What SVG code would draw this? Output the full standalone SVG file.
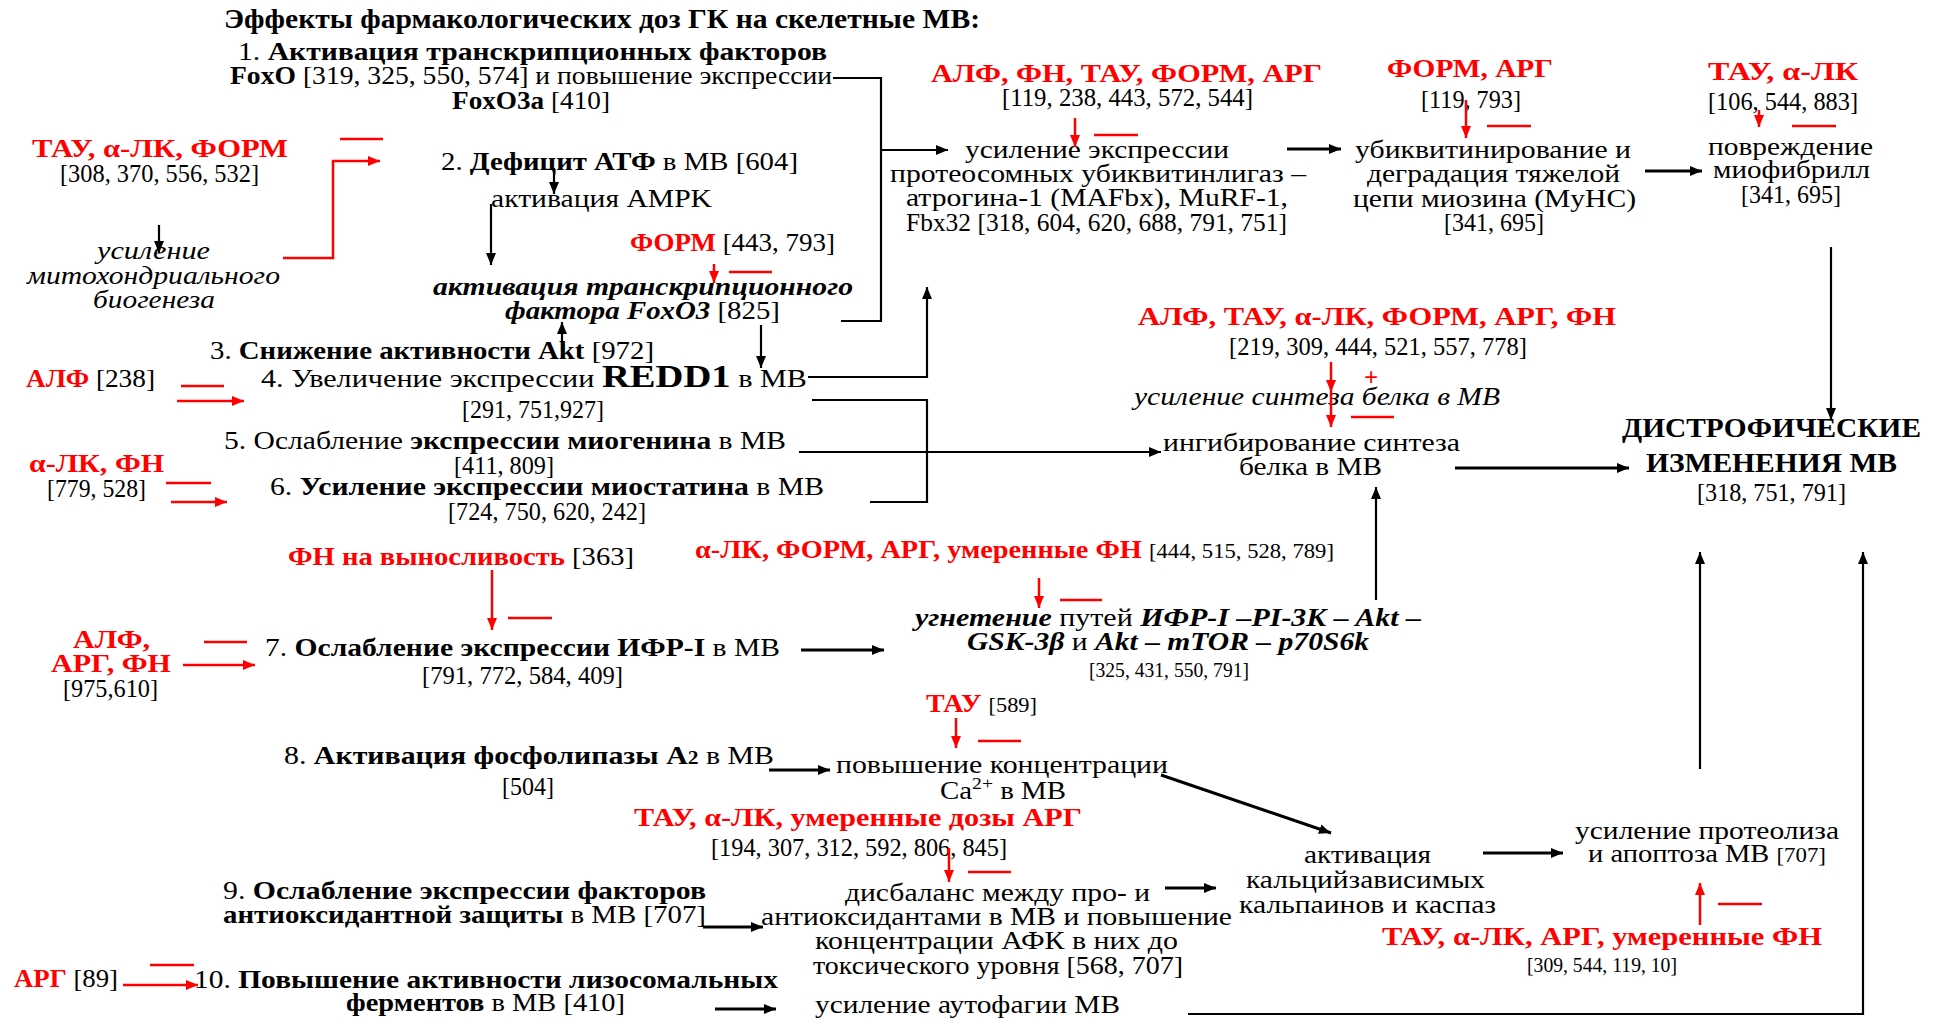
<svg xmlns="http://www.w3.org/2000/svg" width="1943" height="1021" viewBox="0 0 1943 1021">
<defs>
<style>
text{font-family:"Liberation Serif","Times New Roman",serif;font-size:25px;fill:#000}
.b{font-weight:bold}
.i{font-style:italic}
.r{fill:#f00}
.n{font-size:25px}
.s{font-size:20px}
.big{font-size:32px}
.h{font-size:28px;font-weight:bold}
.c{stroke:#000;stroke-width:2.2;fill:none}
.ct{stroke:#000;stroke-width:3;fill:none}
.rl{stroke:#f00;stroke-width:2.5;fill:none}
</style>
<marker id="ab" viewBox="0 0 12 10" refX="12" refY="5" markerWidth="12" markerHeight="10" markerUnits="userSpaceOnUse" orient="auto"><path d="M0,0 L12,5 L0,10 z" fill="#000"/></marker>
<marker id="ar" viewBox="0 0 12 10" refX="12" refY="5" markerWidth="12" markerHeight="10" markerUnits="userSpaceOnUse" orient="auto"><path d="M0,0 L12,5 L0,10 z" fill="#f00"/></marker>
</defs>
<rect width="1943" height="1021" fill="#fff"/>

<g id="title"><text class="h" x="224" y="28" textLength="756" lengthAdjust="spacingAndGlyphs">Эффекты фармакологических доз ГК на скелетные МВ:</text></g>

<g id="n1">
<text x="238" y="60" textLength="589" lengthAdjust="spacingAndGlyphs">1. <tspan class="b">Активация транскрипционных факторов</tspan></text>
<text x="230" y="84" textLength="602" lengthAdjust="spacingAndGlyphs"><tspan class="b">FoxO</tspan> [319, 325, 550, 574] и повышение экспрессии</text>
<text x="452" y="109" textLength="158" lengthAdjust="spacingAndGlyphs"><tspan class="b">FoxO3a</tspan> [410]</text>
</g>

<g id="n_mod2">
<text class="b r" x="32" y="157" textLength="256" lengthAdjust="spacingAndGlyphs">ТАУ, α-ЛК, ФОРМ</text>
<text x="60" y="182" textLength="199" lengthAdjust="spacingAndGlyphs">[308, 370, 556, 532]</text>
</g>
<g id="n_mito">
<text class="i" x="97" y="259" textLength="113" lengthAdjust="spacingAndGlyphs">усиление</text>
<text class="i" x="27" y="284" textLength="253" lengthAdjust="spacingAndGlyphs">митохондриального</text>
<text class="i" x="93" y="308" textLength="122" lengthAdjust="spacingAndGlyphs">биогенеза</text>
</g>
<g id="n2">
<text x="441" y="170" textLength="357" lengthAdjust="spacingAndGlyphs">2. <tspan class="b">Дефицит АТФ</tspan> в МВ [604]</text>
</g>
<g id="n_ampk"><text x="491" y="207" textLength="221" lengthAdjust="spacingAndGlyphs">активация AMPK</text></g>
<g id="n_form1"><text x="630" y="251" textLength="205" lengthAdjust="spacingAndGlyphs"><tspan class="b r">ФОРМ</tspan> [443, 793]</text></g>
<g id="n_foxo3">
<text class="b i" x="433" y="295" textLength="420" lengthAdjust="spacingAndGlyphs">активация транскрипционного</text>
<text x="505" y="319" textLength="275" lengthAdjust="spacingAndGlyphs"><tspan class="b i">фактора FoxO3</tspan> [825]</text>
</g>
<g id="n3"><text x="210" y="359" textLength="444" lengthAdjust="spacingAndGlyphs">3. <tspan class="b">Снижение активности Akt</tspan> [972]</text></g>
<g id="n4">
<text x="261" y="387" textLength="546" lengthAdjust="spacingAndGlyphs">4. Увеличение экспрессии <tspan class="b big">REDD1</tspan> в МВ</text>
<text x="462" y="418" textLength="142" lengthAdjust="spacingAndGlyphs">[291, 751,927]</text>
</g>
<g id="n_alf1"><text x="26" y="387" textLength="129" lengthAdjust="spacingAndGlyphs"><tspan class="b r">АЛФ</tspan> [238]</text></g>
<g id="n5">
<text x="224" y="449" textLength="562" lengthAdjust="spacingAndGlyphs">5. Ослабление <tspan class="b">экспрессии миогенина</tspan> в МВ</text>
<text x="454" y="474" textLength="100" lengthAdjust="spacingAndGlyphs">[411, 809]</text>
</g>
<g id="n_alk1">
<text class="b r" x="29" y="472" textLength="135" lengthAdjust="spacingAndGlyphs">α-ЛК, ФН</text>
<text x="47" y="497" textLength="99" lengthAdjust="spacingAndGlyphs">[779, 528]</text>
</g>
<g id="n6">
<text x="270" y="495" textLength="554" lengthAdjust="spacingAndGlyphs">6. <tspan class="b">Усиление экспрессии миостатина</tspan> в МВ</text>
<text x="448" y="520" textLength="198" lengthAdjust="spacingAndGlyphs">[724, 750, 620, 242]</text>
</g>
<g id="n_fn"><text x="288" y="565" textLength="346" lengthAdjust="spacingAndGlyphs"><tspan class="b r">ФН на выносливость</tspan> [363]</text></g>
<g id="n7">
<text x="265" y="656" textLength="515" lengthAdjust="spacingAndGlyphs">7. <tspan class="b">Ослабление экспрессии ИФР-I</tspan> в МВ</text>
<text x="422" y="684" textLength="201" lengthAdjust="spacingAndGlyphs">[791, 772, 584, 409]</text>
</g>
<g id="n_alf2">
<text class="b r" x="73" y="648" textLength="77" lengthAdjust="spacingAndGlyphs">АЛФ,</text>
<text class="b r" x="51" y="672" textLength="120" lengthAdjust="spacingAndGlyphs">АРГ, ФН</text>
<text x="63" y="697" textLength="95" lengthAdjust="spacingAndGlyphs">[975,610]</text>
</g>
<g id="n8">
<text x="284" y="764" textLength="490" lengthAdjust="spacingAndGlyphs">8. <tspan class="b">Активация фосфолипазы А</tspan><tspan class="b" font-size="18">2</tspan>  в МВ</text>
<text x="502" y="795" textLength="52" lengthAdjust="spacingAndGlyphs">[504]</text>
</g>
<g id="n_tau1"><text x="926" y="712" textLength="111" lengthAdjust="spacingAndGlyphs"><tspan class="b r">ТАУ</tspan> <tspan class="s">[589]</tspan></text></g>
<g id="n_ca">
<text x="836" y="773" textLength="332" lengthAdjust="spacingAndGlyphs">повышение концентрации</text>
<text x="940" y="799" textLength="126" lengthAdjust="spacingAndGlyphs">Ca<tspan font-size="17" dy="-10">2+</tspan><tspan dy="10"> в МВ</tspan></text>
</g>
<g id="n_mod9">
<text class="b r" x="634" y="826" textLength="448" lengthAdjust="spacingAndGlyphs">ТАУ, α-ЛК, умеренные дозы АРГ</text>
<text x="711" y="856" textLength="296" lengthAdjust="spacingAndGlyphs">[194, 307, 312, 592, 806, 845]</text>
</g>
<g id="n_ros">
<text x="845" y="901" textLength="305" lengthAdjust="spacingAndGlyphs">дисбаланс между про- и</text>
<text x="761" y="925" textLength="471" lengthAdjust="spacingAndGlyphs">антиоксидантами в МВ и повышение</text>
<text x="815" y="949" textLength="363" lengthAdjust="spacingAndGlyphs">концентрации АФК в них до</text>
<text x="813" y="974" textLength="370" lengthAdjust="spacingAndGlyphs">токсического уровня [568, 707]</text>
</g>
<g id="n9">
<text x="223" y="899" textLength="483" lengthAdjust="spacingAndGlyphs">9. <tspan class="b">Ослабление экспрессии факторов</tspan></text>
<text x="223" y="923" textLength="483" lengthAdjust="spacingAndGlyphs"><tspan class="b">антиоксидантной защиты</tspan> в МВ [707]</text>
</g>
<g id="n_arg1"><text x="14" y="987" textLength="104" lengthAdjust="spacingAndGlyphs"><tspan class="b r">АРГ</tspan> [89]</text></g>
<g id="n10">
<text x="194" y="988" textLength="584" lengthAdjust="spacingAndGlyphs">10. <tspan class="b">Повышение активности лизосомальных</tspan></text>
<text x="346" y="1011" textLength="279" lengthAdjust="spacingAndGlyphs"><tspan class="b">ферментов</tspan> в МВ [410]</text>
</g>
<g id="n_autoph"><text x="815" y="1013" textLength="305" lengthAdjust="spacingAndGlyphs">усиление аутофагии МВ</text></g>
<g id="n_calp">
<text x="1304" y="863" textLength="127" lengthAdjust="spacingAndGlyphs">активация</text>
<text x="1246" y="888" textLength="239" lengthAdjust="spacingAndGlyphs">кальцийзависимых</text>
<text x="1239" y="913" textLength="257" lengthAdjust="spacingAndGlyphs">кальпаинов и каспаз</text>
</g>
<g id="n_prot">
<text x="1575" y="839" textLength="264" lengthAdjust="spacingAndGlyphs">усиление протеолиза</text>
<text x="1588" y="862" textLength="238" lengthAdjust="spacingAndGlyphs">и апоптоза МВ <tspan class="s">[707]</tspan></text>
</g>
<g id="n_mod10">
<text class="b r" x="1382" y="945" textLength="440" lengthAdjust="spacingAndGlyphs">ТАУ, α-ЛК, АРГ, умеренные ФН</text>
<text class="s" x="1527" y="972" textLength="150" lengthAdjust="spacingAndGlyphs">[309, 544, 119, 10]</text>
</g>
<g id="n_mod_ub">
<text class="b r" x="931" y="82" textLength="391" lengthAdjust="spacingAndGlyphs">АЛФ, ФН, ТАУ, ФОРМ, АРГ</text>
<text x="1002" y="106" textLength="251" lengthAdjust="spacingAndGlyphs">[119, 238, 443, 572, 544]</text>
</g>
<g id="n_ub">
<text x="965" y="158" textLength="264" lengthAdjust="spacingAndGlyphs">усиление экспрессии</text>
<text x="890" y="182" textLength="416" lengthAdjust="spacingAndGlyphs">протеосомных убиквитинлигаз –</text>
<text x="906" y="206" textLength="382" lengthAdjust="spacingAndGlyphs">атрогина-1 (MAFbx), MuRF-1,</text>
<text x="906" y="231" textLength="381" lengthAdjust="spacingAndGlyphs">Fbx32 [318, 604, 620, 688, 791, 751]</text>
</g>
<g id="n_mod_myhc">
<text class="b r" x="1387" y="77" textLength="166" lengthAdjust="spacingAndGlyphs">ФОРМ, АРГ</text>
<text x="1421" y="108" textLength="100" lengthAdjust="spacingAndGlyphs">[119, 793]</text>
</g>
<g id="n_myhc">
<text x="1355" y="158" textLength="276" lengthAdjust="spacingAndGlyphs">убиквитинирование и</text>
<text x="1367" y="182" textLength="253" lengthAdjust="spacingAndGlyphs">деградация тяжелой</text>
<text x="1353" y="207" textLength="283" lengthAdjust="spacingAndGlyphs">цепи миозина (MyHC)</text>
<text x="1444" y="231" textLength="100" lengthAdjust="spacingAndGlyphs">[341, 695]</text>
</g>
<g id="n_mod_mf">
<text class="b r" x="1708" y="80" textLength="150" lengthAdjust="spacingAndGlyphs">ТАУ, α-ЛК</text>
<text x="1708" y="110" textLength="150" lengthAdjust="spacingAndGlyphs">[106, 544, 883]</text>
</g>
<g id="n_mf">
<text x="1708" y="155" textLength="165" lengthAdjust="spacingAndGlyphs">повреждение</text>
<text x="1713" y="178" textLength="157" lengthAdjust="spacingAndGlyphs">миофибрилл</text>
<text x="1741" y="203" textLength="100" lengthAdjust="spacingAndGlyphs">[341, 695]</text>
</g>
<g id="n_mod_syn">
<text class="b r" x="1138" y="325" textLength="478" lengthAdjust="spacingAndGlyphs">АЛФ, ТАУ, α-ЛК, ФОРМ, АРГ, ФН</text>
<text x="1229" y="355" textLength="298" lengthAdjust="spacingAndGlyphs">[219, 309, 444, 521, 557, 778]</text>
</g>
<g id="n_synplus"><text class="i" x="1134" y="405" textLength="366" lengthAdjust="spacingAndGlyphs">усиление синтеза белка в МВ</text></g>
<g id="n_syn">
<text x="1163" y="451" textLength="297" lengthAdjust="spacingAndGlyphs">ингибирование синтеза</text>
<text x="1239" y="475" textLength="143" lengthAdjust="spacingAndGlyphs">белка в МВ</text>
</g>
<g id="n_dys">
<text class="h" x="1622" y="437" textLength="299" lengthAdjust="spacingAndGlyphs">ДИСТРОФИЧЕСКИЕ</text>
<text class="h" x="1646" y="472" textLength="251" lengthAdjust="spacingAndGlyphs">ИЗМЕНЕНИЯ МВ</text>
<text x="1697" y="501" textLength="149" lengthAdjust="spacingAndGlyphs">[318, 751, 791]</text>
</g>
<g id="n_mod_igf"><text x="695" y="558" textLength="639" lengthAdjust="spacingAndGlyphs"><tspan class="b r">α-ЛК, ФОРМ, АРГ, умеренные ФН</tspan> <tspan class="s">[444, 515, 528, 789]</tspan></text></g>
<g id="n_igf">
<text x="915" y="626" textLength="506" lengthAdjust="spacingAndGlyphs"><tspan class="b i">угнетение</tspan> путей <tspan class="b i">ИФР-I –PI-3K – Akt –</tspan></text>
<text x="967" y="650" textLength="402" lengthAdjust="spacingAndGlyphs"><tspan class="b i">GSK-3β</tspan> и <tspan class="b i">Akt – mTOR – p70S6k</tspan></text>
<text class="s" x="1089" y="677" textLength="160" lengthAdjust="spacingAndGlyphs">[325, 431, 550, 791]</text>
</g>

<g id="connectors">
<path class="c" d="M833,78 H881 V321 H841"/>
<path class="c" d="M881,150 H948" marker-end="url(#ab)"/>
<path class="c" d="M159,225 V253" marker-end="url(#ab)"/>
<path class="c" d="M554,168 V194" marker-end="url(#ab)"/>
<path class="c" d="M491,204 V265" marker-end="url(#ab)"/>
<path class="c" d="M562,358 V322" marker-end="url(#ab)"/>
<path class="c" d="M761,325 V368" marker-end="url(#ab)"/>
<path class="c" d="M808,377 H927 V287" marker-end="url(#ab)"/>
<path class="c" d="M812,400 H927 V502 H870"/>
<path class="c" d="M799,452 H1161" marker-end="url(#ab)"/>
<path class="ct" d="M801,650 H884" marker-end="url(#ab)"/>
<path class="ct" d="M769,770 H830" marker-end="url(#ab)"/>
<path class="ct" d="M1161,775 L1331,833" marker-end="url(#ab)"/>
<path class="ct" d="M1165,888 H1216" marker-end="url(#ab)"/>
<path class="ct" d="M703,927 H763" marker-end="url(#ab)"/>
<path class="ct" d="M715,1009 H776" marker-end="url(#ab)"/>
<path class="ct" d="M1483,853 H1563" marker-end="url(#ab)"/>
<path class="c" d="M1188,1014 H1863 V552" marker-end="url(#ab)"/>
<path class="c" d="M1700,769 V552" marker-end="url(#ab)"/>
<path class="ct" d="M1287,149 H1341" marker-end="url(#ab)"/>
<path class="ct" d="M1645,171 H1702" marker-end="url(#ab)"/>
<path class="c" d="M1831,247 V420" marker-end="url(#ab)"/>
<path class="ct" d="M1455,468 H1629" marker-end="url(#ab)"/>
<path class="c" d="M1376,600 V487" marker-end="url(#ab)"/>

<path class="rl" d="M340,139 H383"/>
<path class="rl" d="M283,258 H333 V161 H380" marker-end="url(#ar)"/>
<path class="rl" d="M714,264 V283" marker-end="url(#ar)"/>
<path class="rl" d="M729,272 H772"/>
<path class="rl" d="M181,386 H224"/>
<path class="rl" d="M177,401 H244" marker-end="url(#ar)"/>
<path class="rl" d="M166,483 H211"/>
<path class="rl" d="M171,502 H227" marker-end="url(#ar)"/>
<path class="rl" d="M492,570 V630" marker-end="url(#ar)"/>
<path class="rl" d="M508,618 H552"/>
<path class="rl" d="M204,642 H247"/>
<path class="rl" d="M183,665 H255" marker-end="url(#ar)"/>
<path class="rl" d="M956,718 V748" marker-end="url(#ar)"/>
<path class="rl" d="M978,741 H1021"/>
<path class="rl" d="M949,848 V882" marker-end="url(#ar)"/>
<path class="rl" d="M968,872 H1011"/>
<path class="rl" d="M150,965 H194"/>
<path class="rl" d="M123,985 H198" marker-end="url(#ar)"/>
<path class="rl" d="M1700,925 V883" marker-end="url(#ar)"/>
<path class="rl" d="M1718,904 H1762"/>
<path class="rl" d="M1075,118 V147" marker-end="url(#ar)"/>
<path class="rl" d="M1094,135 H1138"/>
<path class="rl" d="M1466,100 V138" marker-end="url(#ar)"/>
<path class="rl" d="M1487,126 H1531"/>
<path class="rl" d="M1759,110 V127" marker-end="url(#ar)"/>
<path class="rl" d="M1792,126 H1836"/>
<path class="rl" d="M1331,362 V392" marker-end="url(#ar)"/>
<path class="rl" d="M1331,392 V427" marker-end="url(#ar)"/>
<path class="rl" d="M1351,417 H1394"/>
<path class="rl" d="M1039,578 V608" marker-end="url(#ar)"/>
<path class="rl" d="M1060,600 H1102"/>
</g>
<g id="n_plus"><text class="b r" x="1364" y="386" font-size="22">+</text></g>
</svg>
